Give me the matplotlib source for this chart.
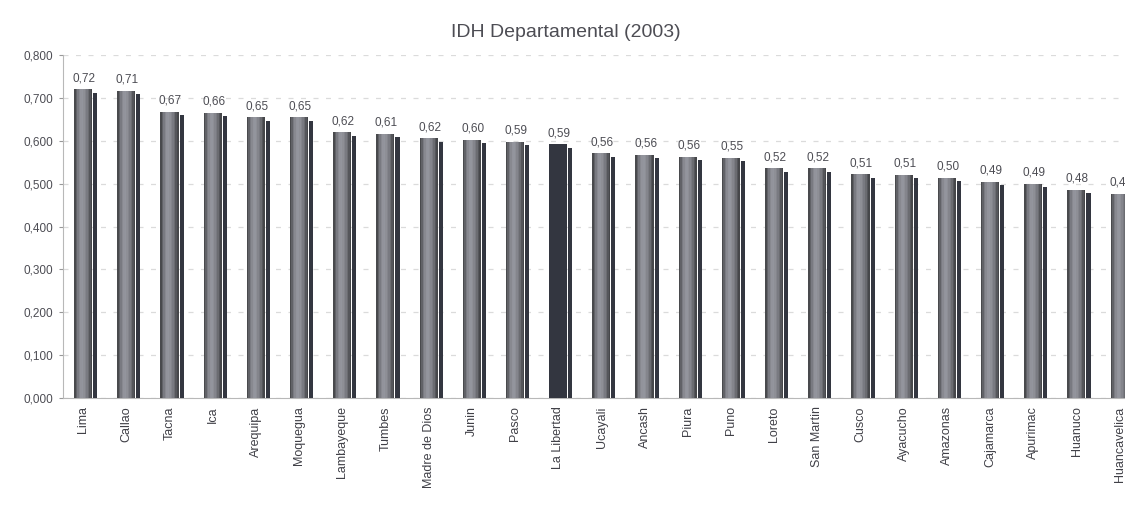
import matplotlib
matplotlib.use("Agg")
import matplotlib.pyplot as plt
import numpy as np

departments = ["Lima", "Callao", "Tacna", "Ica", "Arequipa", "Moquegua", "Lambayeque",
               "Tumbes", "Madre de Dios", "Junin", "Pasco", "La Libertad", "Ucayali",
               "Ancash", "Piura", "Puno", "Loreto", "San Martin", "Cusco", "Ayacucho",
               "Amazonas", "Cajamarca", "Apurimac", "Huanuco", "Huancavelica"]
idh = [0.720, 0.716, 0.667, 0.665, 0.655, 0.655, 0.620, 0.616, 0.606, 0.602, 0.597,
       0.592, 0.571, 0.567, 0.562, 0.560, 0.536, 0.536, 0.522, 0.520, 0.513, 0.504,
       0.499, 0.485, 0.476]
value_labels = ["0,72", "0,71", "0,67", "0,66", "0,65", "0,65", "0,62", "0,61", "0,62",
                "0,60", "0,59", "0,59", "0,56", "0,56", "0,56", "0,55", "0,52", "0,52",
                "0,51", "0,51", "0,50", "0,49", "0,49", "0,48", "0,47"]
yticks = [0.0, 0.1, 0.2, 0.3, 0.4, 0.5, 0.6, 0.7, 0.8]
ytick_labels = ["0,000", "0,100", "0,200", "0,300", "0,400", "0,500", "0,600", "0,700", "0,800"]
highlight = "La Libertad"

plt.rcParams['font.family'] = ['Liberation Sans', 'DejaVu Sans']

fig = plt.figure(figsize=(11.25, 5.09), dpi=100)
ax = fig.add_axes([0.056, 0.218, 0.944, 0.674])

x = np.arange(len(departments))
vals = np.array(idh)

# gray profile across the main bar (left -> right)
profile = [75, 100, 125, 140, 150, 152, 146, 136, 125, 110, 88, 72]
n = len(profile)
left, right = -0.215, 0.205
w = (right - left) / n
for k, g in enumerate(profile):
    off = left + w * (k + 0.5)
    cols = []
    for d in departments:
        if d == highlight:
            cols.append((0.2, 0.21, 0.25))
        else:
            c = g / 255.0
            cols.append((c * 0.97, c * 0.98, min(c * 1.03, 1)))
    ax.bar(x + off, vals, width=w * 1.02, color=cols, linewidth=0, zorder=3)

# darker depth side bar
ax.bar(x + 0.275, vals - 0.008, width=0.095, color=(0.2, 0.21, 0.25), linewidth=0, zorder=3)

for xi, v, lab in zip(x, vals, value_labels):
    ax.text(xi + 0.02, v + 0.012, lab, ha="center", va="bottom", fontsize=8.5,
            color=(0.3, 0.3, 0.33), zorder=4)

ax.set_xlim(-0.47, 24.12)
ax.set_ylim(0, 0.8)
ax.set_yticks(yticks)
ax.set_yticklabels(ytick_labels, fontsize=8.5, color=(0.3, 0.3, 0.33))
ax.set_xticks(x)
ax.set_xticklabels(departments, rotation=90, fontsize=9, color=(0.25, 0.25, 0.28))
ax.tick_params(axis="x", length=0, pad=6)
ax.tick_params(axis="y", length=3, color=(0.6, 0.6, 0.6), pad=4)

ax.grid(axis="y", linestyle=(0, (4, 6)), color=(0.86, 0.86, 0.86), linewidth=0.9, zorder=0)
for s in ["top", "right"]:
    ax.spines[s].set_visible(False)
for s in ["left", "bottom"]:
    ax.spines[s].set_color((0.72, 0.72, 0.72))
    ax.spines[s].set_linewidth(0.8)

fig.text(0.503, 0.937, "IDH Departamental (2003)", ha="center", va="center",
         fontsize=14, color=(0.3, 0.3, 0.33))

fig.savefig("out.png", dpi=100)
